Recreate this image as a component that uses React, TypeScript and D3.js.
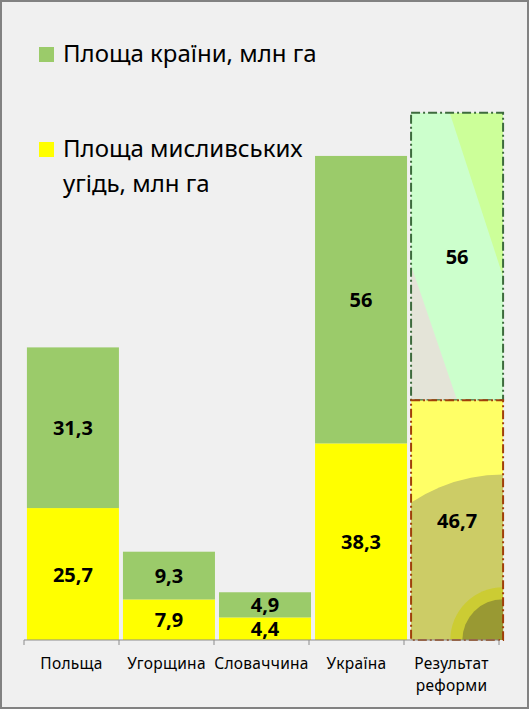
import React from 'react';
import * as d3 from 'd3';

// chart values
const categories = ['Польща', 'Угорщина', 'Словаччина', 'Україна', 'Результат реформи'];
const huntingArea = [25.7, 7.9, 4.4, 38.3, 46.7];
const countryArea = [31.3, 9.3, 4.9, 56, 56];
const labelHunting = ['25,7', '7,9', '4,4', '38,3', '46,7'];
const labelCountry = ['31,3', '9,3', '4,9', '56', '56'];
const legendItems = [
  { lines: ['Площа країни, млн га'], color: '#9bcb6a' },
  { lines: ['Площа мисливських', 'угідь, млн га'], color: '#ffff00' },
];

const W = 530;
const H = 710;
const FONT = '"Noto Sans", "Open Sans", sans-serif';

const App = () => {
  // axis ticks/labels and bars are a hair apart in the original, so two scales
  const xAxis = d3.scaleBand().domain(categories).range([24, 499]);
  const xBar = d3.scaleBand().domain(categories).range([25, 505]).paddingInner(0.042).paddingOuter(0.02);
  const y = d3.scaleLinear().domain([0, 120]).range([640, 24]);

  const bars = categories.map((c, i) => {
    const x0 = xBar(c);
    const w = xBar.bandwidth();
    const yBase = y(0);
    const yMid = y(huntingArea[i]);
    const yTop = y(huntingArea[i] + countryArea[i]);
    return { c, i, x0, w, yBase, yMid, yTop };
  });
  const last = bars[bars.length - 1];

  return (
    <svg width={W} height={H} style={{ position: 'absolute', left: 0, top: 0 }}>
      <defs>
        <clipPath id="clipTop">
          <rect x={last.x0} y={last.yTop} width={last.w} height={last.yMid - last.yTop} />
        </clipPath>
        <clipPath id="clipBottom">
          <rect x={last.x0} y={last.yMid} width={last.w} height={last.yBase - last.yMid} />
        </clipPath>
      </defs>
      <rect x={1} y={1} width={W - 3} height={H - 3} fill="#f0f0f0" stroke="#828282" strokeWidth={2} />

      {/* legend */}
      {legendItems.map((d, k) => {
        const top = k === 0 ? 47 : 142;
        return (
          <g key={k}>
            <rect x={39} y={top} width={15} height={15} fill={d.color} />
            {d.lines.map((ln, j) => (
              <text key={j} x={63} y={top + 15 + j * 35} fontFamily={FONT} fontSize={24} fill="#000">
                {ln}
              </text>
            ))}
          </g>
        );
      })}

      {/* ordinary bars */}
      {bars.slice(0, -1).map(b => (
        <g key={b.c}>
          <rect x={b.x0} y={b.yMid} width={b.w} height={b.yBase - b.yMid} fill="#ffff00" />
          <rect x={b.x0} y={b.yTop} width={b.w} height={b.yMid - b.yTop} fill="#9bcb6a" />
        </g>
      ))}

      {/* the 'reform' bar with its decorated fill */}
      <g>
        <g clipPath="url(#clipTop)">
          <rect x={last.x0} y={last.yTop} width={last.w} height={last.yMid - last.yTop} fill="#ccffcc" />
          <polygon
            points={[
              [last.x0 + last.w * 0.42, last.yTop],
              [last.x0 + last.w, last.yTop],
              [last.x0 + last.w, last.yTop + (last.yMid - last.yTop) * 0.57],
            ].map(p => p.join(',')).join(' ')}
            fill="#ccff99"
          />
          <polygon
            points={[
              [last.x0, last.yTop + (last.yMid - last.yTop) * 0.53],
              [last.x0, last.yMid],
              [last.x0 + last.w * 0.5, last.yMid],
            ].map(p => p.join(',')).join(' ')}
            fill="#e4e4d8"
          />
        </g>
        <rect x={last.x0} y={last.yTop} width={last.w} height={last.yMid - last.yTop}
          fill="none" stroke="#3d6b3d" strokeWidth={2} strokeDasharray="9,3,2,3" />
        <g clipPath="url(#clipBottom)">
          <rect x={last.x0} y={last.yMid} width={last.w} height={last.yBase - last.yMid} fill="#ffff66" />
          <circle cx={last.x0 + last.w} cy={last.yBase} r={(last.yBase - last.yMid) * 0.69} fill="#cccc66" />
          <circle cx={last.x0 + last.w} cy={last.yBase} r={(last.yBase - last.yMid) * 0.22} fill="#cccc33" />
          <circle cx={last.x0 + last.w} cy={last.yBase} r={(last.yBase - last.yMid) * 0.17} fill="#999933" />
        </g>
        <rect x={last.x0} y={last.yMid} width={last.w} height={last.yBase - last.yMid}
          fill="none" stroke="#a0400a" strokeWidth={2} strokeDasharray="9,3,2,3" />
      </g>

      {/* value labels */}
      {bars.map(b => (
        <g key={'l' + b.c} fontFamily={FONT} fontWeight="bold" fontSize={20} textAnchor="middle" fill="#000">
          <text x={b.x0 + b.w / 2} y={(b.yMid + b.yBase) / 2 + 7.5}>{labelHunting[b.i]}</text>
          <text x={b.x0 + b.w / 2} y={(b.yTop + b.yMid) / 2 + 7.5}>{labelCountry[b.i]}</text>
        </g>
      ))}

      {/* x axis */}
      <line x1={24} x2={499} y1={640} y2={640} stroke="#8c8c8c" strokeWidth={1} />
      {[...categories.map(c => xAxis(c)), 499].map((t, k) => (
        <line key={k} x1={t} x2={t} y1={640} y2={645} stroke="#8c8c8c" strokeWidth={1} />
      ))}
      {categories.map(c => (
        <text key={'c' + c} x={xAxis(c) + xAxis.bandwidth() / 2} y={669} textAnchor="middle"
          fontFamily={FONT} fontSize={15.5} letterSpacing={0.3} fill="#000">
          {c.split(' ').map((w, j) => (
            <tspan key={j} x={xAxis(c) + xAxis.bandwidth() / 2} dy={j === 0 ? 0 : 22}>{w}</tspan>
          ))}
        </text>
      ))}
    </svg>
  );
};

export default App;
